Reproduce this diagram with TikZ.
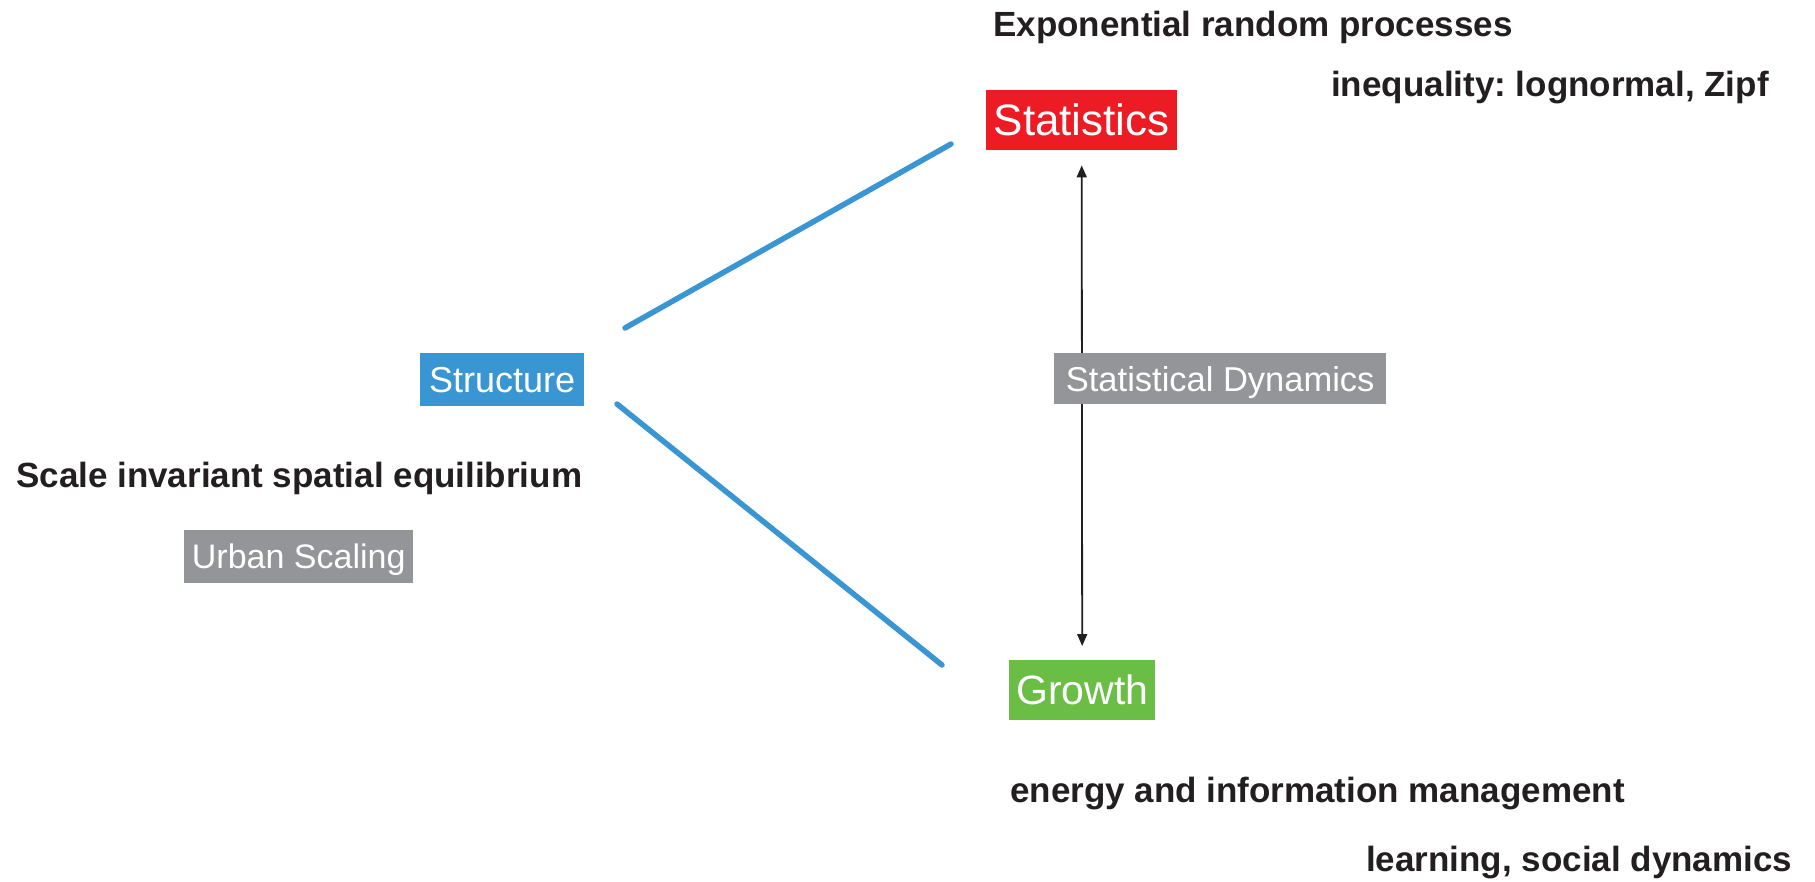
\documentclass[tikz,border=0pt]{standalone}
\usepackage{fontspec}
\setmainfont{Liberation Sans}
\usetikzlibrary{arrows.meta}
\definecolor{statred}{HTML}{ED1C24}
\definecolor{structblue}{HTML}{3A96D2}
\definecolor{growgreen}{HTML}{6ABD45}
\definecolor{taggray}{HTML}{939598}
\definecolor{ink}{HTML}{231F20}
\begin{document}
\frenchspacing
\begin{tikzpicture}[x=1pt,y=-1pt,
  box/.style={anchor=north west, inner sep=0pt, text=white, align=center,
              text depth=0pt},
  note/.style={anchor=base west, inner sep=0pt, text=ink,
               font=\bfseries\fontsize{35}{42}\selectfont},
  sketch/.style={structblue, line width=5.5pt, line cap=round},
  link/.style={ink, line width=1.8pt,
               {Triangle[width=10pt,length=12pt]}-{Triangle[width=10pt,length=12pt]}}
]
% canvas
\fill[white] (0,0) rectangle (1815,881);
\useasboundingbox (0,0) rectangle (1815,881);

% main concept boxes
\node[box, fill=statred, minimum width=191pt, minimum height=60pt,
      text height=31.5pt, font=\fontsize{44}{50}\selectfont] (stat) at (986,90) {Statistics};
\node[box, fill=structblue, minimum width=164pt, minimum height=53pt,
      text height=25.8pt, font=\fontsize{36}{42}\selectfont] (struct) at (420,353) {Structure};
\node[box, fill=growgreen, minimum width=146pt, minimum height=60pt,
      text height=29.4pt, font=\fontsize{41}{48}\selectfont] (grow) at (1009,660) {Growth};

% descriptive labels
\node[note] (expo) at (993,36) {Exponential random processes};
\node[note] (ineq) at (1331,96) {inequality: lognormal, Zipf};
\node[note] (scale) at (16,487) {Scale invariant spatial equilibrium};
\node[note] (energy) at (1010,802) {energy and information management};
\node[note] (learn) at (1366,871) {learning, social dynamics};

% hand-drawn links from Structure
\coordinate (upA) at (625,328);
\coordinate (upB) at (951,144);
\coordinate (loA) at (617,404);
\coordinate (loB) at (942,665);
\draw[sketch] (upA) -- (upB);
\draw[sketch] (loA) -- (loB);

% two-way link between Statistics and Growth
\draw[link, shorten <=15pt, shorten >=14pt] (stat.south) -- (grow.north);

% gray tags
\node[box, fill=taggray, minimum width=332pt, minimum height=51pt,
      text height=24.7pt, font=\fontsize{34.5}{40}\selectfont] (sdyn) at (1054,353) {Statistical Dynamics};
\node[box, fill=taggray, minimum width=229pt, minimum height=53pt,
      text height=24.4pt, font=\fontsize{34}{40}\selectfont] (urban) at (184,530) {Urban Scaling};
\end{tikzpicture}
\end{document}
